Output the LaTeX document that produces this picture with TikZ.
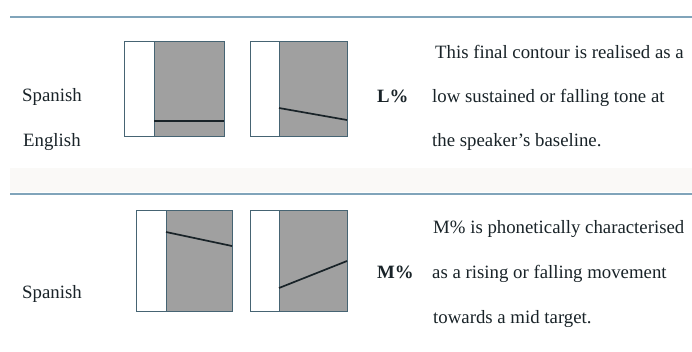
\documentclass[tikz,border=0pt]{standalone}
\usepackage{fontspec}
\setmainfont{Liberation Serif}
\definecolor{rulecol}{RGB}{128,164,186}
\definecolor{boxgrey}{RGB}{160,160,160}
\definecolor{bandcol}{RGB}{250,249,247}
\definecolor{edgecol}{RGB}{70,100,115}
\definecolor{inkcol}{RGB}{25,35,40}
\begin{document}
\begin{tikzpicture}[x=1pt,y=-1pt,
  txt/.style={font=\fontsize{18.8}{22}\selectfont, anchor=base west, inner sep=0pt, text=inkcol},
  boldtxt/.style={txt, font=\fontsize{18.8}{22}\selectfont\bfseries},
  panel/.style={draw=edgecol, line width=1pt},
  contour/.style={draw=inkcol, line width=1.7pt},
  rule/.style={draw=rulecol, line width=2.4pt}]
\useasboundingbox (0,0) rectangle (692,351);
\fill[white] (0,0) rectangle (692,351);
% light band
\fill[bandcol] (10,168) rectangle (692,192);
% rules
\draw[rule] (10,17) -- (692,17);
\draw[rule] (10,194) -- (692,194);

% ---- top row panels
\fill[boxgrey] (154,41) rectangle (224,136);
\draw[panel] (124,41) rectangle (224,136);
\draw[panel] (154,41) -- (154,136);
\coordinate (a1) at (154,121); \coordinate (a2) at (224,121);
\draw[contour] (a1) -- (a2);

\fill[boxgrey] (279,41) rectangle (347,136);
\draw[panel] (250,41) rectangle (347,136);
\draw[panel] (279,41) -- (279,136);
\coordinate (b1) at (279,108); \coordinate (b2) at (347,120);
\draw[contour] (b1) -- (b2);

% ---- bottom row panels
\fill[boxgrey] (166,210) rectangle (232,311);
\draw[panel] (136,210) rectangle (232,311);
\draw[panel] (166,210) -- (166,311);
\coordinate (c1) at (166,232); \coordinate (c2) at (232,246);
\draw[contour] (c1) -- (c2);

\fill[boxgrey] (279,210) rectangle (347,311);
\draw[panel] (250,210) rectangle (347,311);
\draw[panel] (279,210) -- (279,311);
\coordinate (d1) at (279,288); \coordinate (d2) at (347,261);
\draw[contour] (d1) -- (d2);

% ---- labels top
\node[txt] (sp1) at (22,101) {Spanish};
\node[txt] (en1) at (23,146) {English};
\node[boldtxt] (lp) at (377,102) {L\%};
\node[txt] (t1) at (435,58) {This final contour is realised as a};
\node[txt] (t2) at (432,102) {low sustained or falling tone at};
\node[txt] (t3) at (432,146) {the speaker’s baseline.};

% ---- labels bottom
\node[txt] (sp2) at (22,298) {Spanish};
\node[boldtxt] (mp) at (377,278) {M\%};
\node[txt] (u1) at (433,233) {M\% is phonetically characterised};
\node[txt] (u2) at (432,278) {as a rising or falling movement};
\node[txt] (u3) at (433,323) {towards a mid target.};
\end{tikzpicture}
\end{document}
